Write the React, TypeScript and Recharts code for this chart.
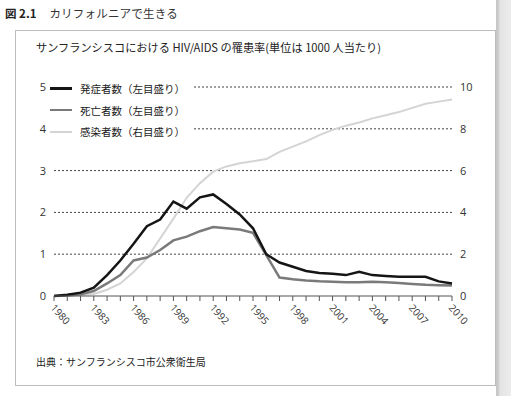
import React from 'react';
import { LineChart, Line, XAxis, YAxis, ReferenceLine } from 'recharts';

const years = [1980, 1981, 1982, 1983, 1984, 1985, 1986, 1987, 1988, 1989, 1990, 1991, 1992, 1993, 1994, 1995, 1996, 1997, 1998, 1999, 2000, 2001, 2002, 2003, 2004, 2005, 2006, 2007, 2008, 2009, 2010];
const onset = [0, 0.03, 0.08, 0.2, 0.5, 0.85, 1.25, 1.67, 1.83, 2.26, 2.09, 2.36, 2.43, 2.2, 1.95, 1.62, 1.0, 0.8, 0.7, 0.6, 0.55, 0.53, 0.5, 0.58, 0.5, 0.48, 0.46, 0.46, 0.46, 0.35, 0.3];
const deaths = [0, 0.01, 0.04, 0.12, 0.3, 0.5, 0.85, 0.92, 1.1, 1.33, 1.42, 1.55, 1.65, 1.62, 1.59, 1.51, 0.98, 0.44, 0.4, 0.37, 0.35, 0.34, 0.33, 0.33, 0.34, 0.33, 0.31, 0.29, 0.27, 0.26, 0.25];
const infected = [0, 0.02, 0.05, 0.1, 0.3, 0.6, 1.15, 1.8, 2.75, 3.7, 4.7, 5.4, 5.95, 6.2, 6.35, 6.45, 6.55, 6.9, 7.15, 7.4, 7.7, 7.95, 8.15, 8.3, 8.5, 8.65, 8.8, 9.0, 9.2, 9.3, 9.4];

const leftTicks = [0, 1, 2, 3, 4, 5];
const rightTicks = [0, 2, 4, 6, 8, 10];
const gridValues = [1, 2, 3, 4, 5];

const figTitle = '図 2.1';
const figSubtitle = 'カリフォルニアで生きる';
const chartTitle = 'サンフランシスコにおける HIV/AIDS の罹患率(単位は 1000 人当たり)';
const sourceText = '出典：サンフランシスコ市公衆衛生局';
const seriesNames = ['発症者数（左目盛り）', '死亡者数（左目盛り）', '感染者数（右目盛り）'];
const seriesColors = ['#151515', '#7a7a7a', '#d4d4d4'];

const data = years.map((y, i) => ({ year: y, onset: onset[i], deaths: deaths[i], infected: infected[i] }));

const CJK = '"Noto Sans CJK JP", "Noto Sans", sans-serif';
const NUM = '"Open Sans", "Noto Sans", sans-serif';

const XTick = (props: any) => {
  const { x, y, payload } = props;
  const v = payload.value as number;
  if ((v - 1980) % 3 !== 0) return null;
  return (
    <g transform={`translate(${x + 2},${y})`}>
      <text x={0} y={0} dy={8} transform="rotate(48)" textAnchor="start" fill="#333" fontSize={10} fontFamily={NUM}>
        {v}
      </text>
    </g>
  );
};

export default function App() {
  return (
    <div style={{ position: 'absolute', left: 0, top: 0, width: 511, height: 396, background: '#fff', overflow: 'hidden' }}>
      <div style={{ position: 'absolute', left: 5, top: 5, fontFamily: CJK, fontSize: 11.5, color: '#222', whiteSpace: 'nowrap' }}>
        <span style={{ fontWeight: 700 }}>{figTitle}</span>
        <span style={{ marginLeft: 13, letterSpacing: 0.2, color: '#333' }}>{figSubtitle}</span>
      </div>
      <div style={{ position: 'absolute', left: 15, top: 30, width: 481, height: 356, border: '1px solid #bdbdbd', boxSizing: 'border-box' }} />
      <div style={{ position: 'absolute', left: 496, top: 0, width: 15, height: 396, background: 'linear-gradient(to right, #c8c8c8 0px, #c8c8c8 2px, #e4e4e4 4px, #ececec 15px)' }} />
      <div style={{ position: 'absolute', left: 36, top: 39, fontFamily: CJK, fontSize: 11.2, color: '#222', whiteSpace: 'nowrap' }}>
        {chartTitle}
      </div>
      <div style={{ position: 'absolute', left: 0, top: 0 }}>
        <LineChart width={511} height={396} data={data} margin={{ top: 87, right: 0, bottom: 70, left: 0 }}>
          {gridValues.map((g) => (
            <ReferenceLine key={g} yAxisId="left" y={g} stroke="#444" strokeDasharray="2 2" strokeWidth={1} />
          ))}
          <XAxis
            dataKey="year"
            type="number"
            domain={[1980, 2010]}
            ticks={years}
            interval={0}
            tick={<XTick />}
            tickSize={5}
            tickLine={{ stroke: '#555' }}
            axisLine={{ stroke: '#555' }}
            height={30}
          />
          <YAxis
            yAxisId="left"
            domain={[0, 5]}
            ticks={leftTicks}
            axisLine={false}
            tickLine={false}
            width={54}
            tick={{ fill: '#333', fontSize: 11, fontFamily: NUM }}
          />
          <YAxis
            yAxisId="right"
            orientation="right"
            domain={[0, 10]}
            ticks={rightTicks}
            axisLine={false}
            tickLine={false}
            width={59}
            tick={{ fill: '#333', fontSize: 11, fontFamily: NUM, textAnchor: 'start' }}
          />
          <Line yAxisId="right" dataKey="infected" stroke={seriesColors[2]} strokeWidth={2} dot={false} isAnimationActive={false} />
          <Line yAxisId="left" dataKey="deaths" stroke={seriesColors[1]} strokeWidth={2.5} dot={false} isAnimationActive={false} />
          <Line yAxisId="left" dataKey="onset" stroke={seriesColors[0]} strokeWidth={2.5} dot={false} isAnimationActive={false} />
        </LineChart>
      </div>
      <div style={{ position: 'absolute', left: 48, top: 78, width: 144, height: 64, background: '#fff' }}>
        {seriesNames.map((n, i) => (
          <div key={n} style={{ position: 'absolute', left: 0, top: i * 21.7, height: 21, display: 'flex', alignItems: 'center' }}>
            <div style={{ width: 22, height: i === 0 ? 3 : 2.5, background: seriesColors[i], marginLeft: 2 }} />
            <span style={{ marginLeft: 8, fontFamily: CJK, fontSize: 10.5, color: '#1a1a1a', whiteSpace: 'nowrap' }}>{n}</span>
          </div>
        ))}
      </div>
      <div style={{ position: 'absolute', left: 36, top: 354, fontFamily: CJK, fontSize: 10, color: '#222', whiteSpace: 'nowrap' }}>
        {sourceText}
      </div>
    </div>
  );
}
